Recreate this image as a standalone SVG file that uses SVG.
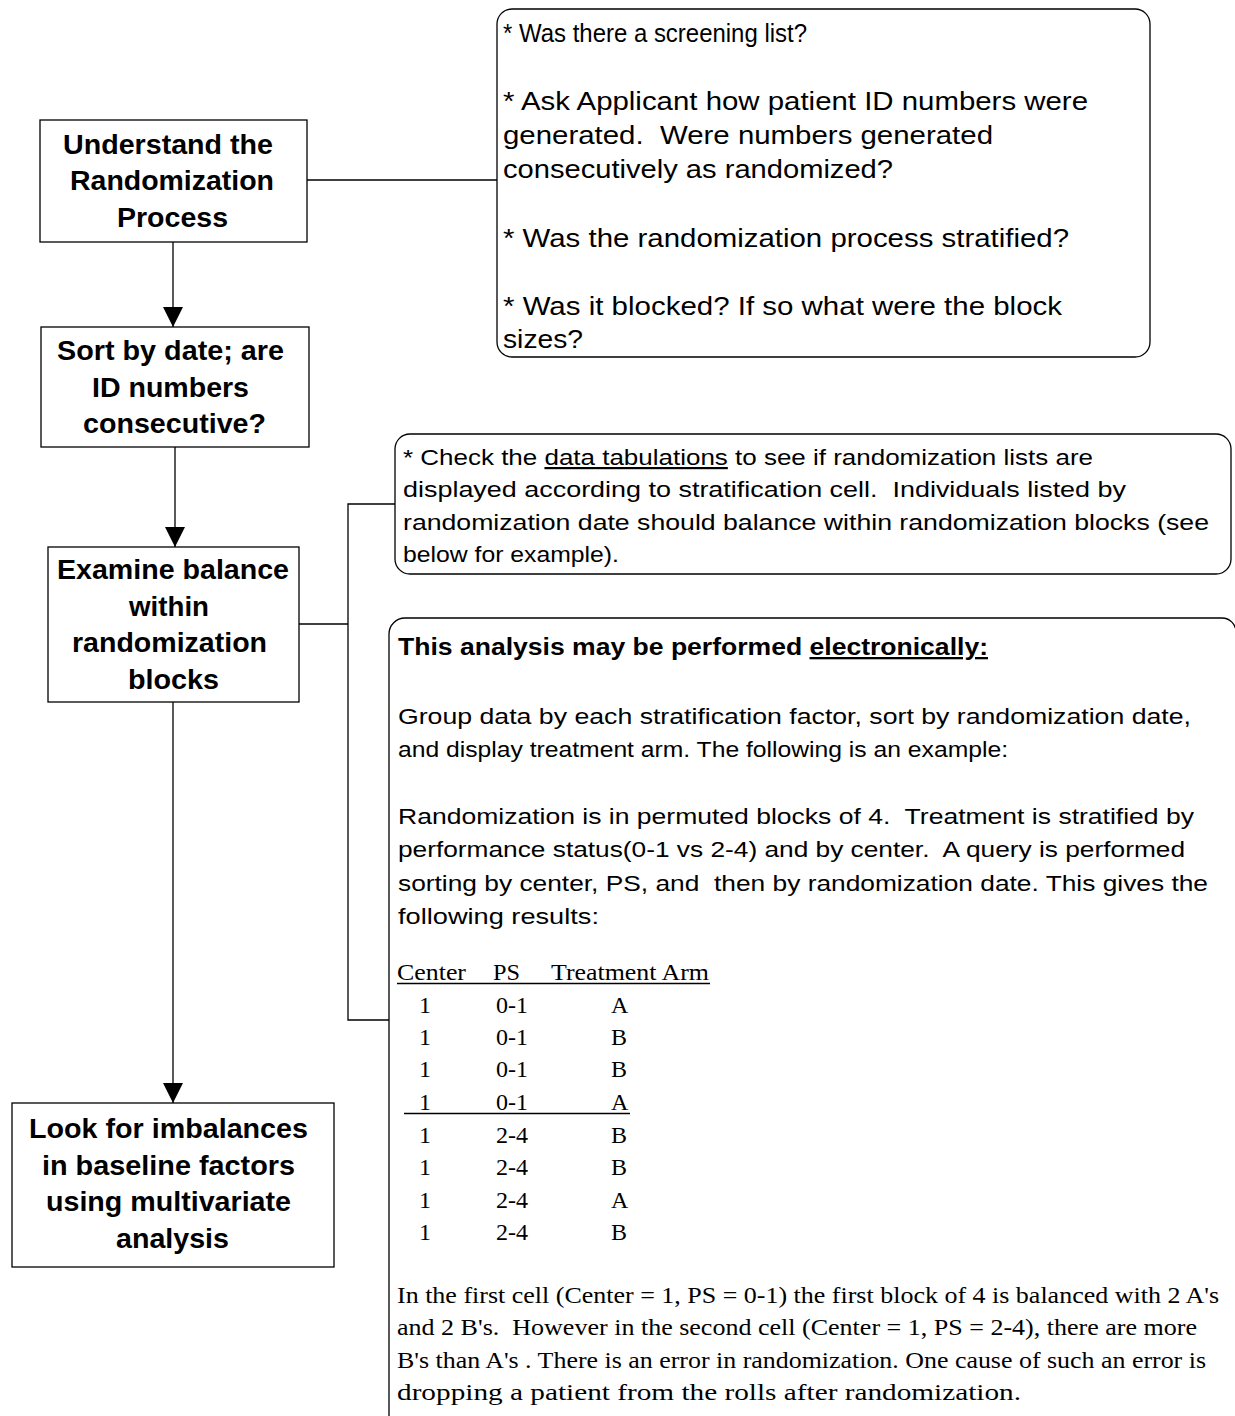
<svg xmlns="http://www.w3.org/2000/svg" width="1235" height="1416" viewBox="0 0 1235 1416">
  <style>
    .box { fill: #ffffff; stroke: #000000; stroke-width: 1.3; }
    .note { fill: #ffffff; stroke: #000000; stroke-width: 1.3; }
    .wire { fill: none; stroke: #000000; stroke-width: 1.3; }
    .rule { stroke: #000000; stroke-width: 1.3; }
    .head { font-family: "Liberation Sans", Arial, sans-serif; font-weight: bold; font-size: 27.5px; fill: #000000; text-anchor: middle; }
    .big { font-family: "Liberation Sans", Arial, sans-serif; font-size: 26px; fill: #000000; }
    .sans { font-family: "Liberation Sans", Arial, sans-serif; font-size: 22px; fill: #000000; }
    .sansb { font-family: "Liberation Sans", Arial, sans-serif; font-size: 23px; font-weight: bold; fill: #000000; }
    .serif { font-family: "Liberation Serif", "Times New Roman", serif; font-size: 24px; fill: #000000; }
    .u { text-decoration: underline; }
  </style>
  <defs>
    <marker id="arrow" markerUnits="userSpaceOnUse" markerWidth="22" markerHeight="22" viewBox="0 0 22 22" refX="20" refY="11" orient="auto">
      <path d="M0,1 L20,11 L0,21 Z" fill="#000000"/>
    </marker>
  </defs>

  <!-- connectors -->
  <g id="connectors">
    <line class="wire" x1="173" y1="242" x2="173" y2="327" marker-end="url(#arrow)"/>
    <line class="wire" x1="175" y1="447" x2="175" y2="547" marker-end="url(#arrow)"/>
    <line class="wire" x1="173" y1="702" x2="173" y2="1103" marker-end="url(#arrow)"/>
    <line class="wire" x1="307" y1="180" x2="497" y2="180"/>
    <path class="wire" d="M299,624 H348 M395,504 H348 V1020 H389"/>
  </g>

  <!-- step 1 -->
  <g id="understand">
    <rect class="box" x="40" y="120" width="267" height="122"/>
    <text class="head" x="168" y="154" textLength="210" lengthAdjust="spacingAndGlyphs">Understand the</text>
    <text class="head" x="172" y="190" textLength="204" lengthAdjust="spacingAndGlyphs">Randomization</text>
    <text class="head" x="172.5" y="227" textLength="111" lengthAdjust="spacingAndGlyphs">Process</text>
  </g>

  <!-- step 2 -->
  <g id="sort">
    <rect class="box" x="41" y="327" width="268" height="120"/>
    <text class="head" x="170.5" y="360" textLength="227" lengthAdjust="spacingAndGlyphs">Sort by date; are</text>
    <text class="head" x="170.5" y="397" textLength="157" lengthAdjust="spacingAndGlyphs">ID numbers</text>
    <text class="head" x="174.5" y="433" textLength="183" lengthAdjust="spacingAndGlyphs">consecutive?</text>
  </g>

  <!-- step 3 -->
  <g id="examine">
    <rect class="box" x="48" y="547" width="251" height="155"/>
    <text class="head" x="173" y="579" textLength="232" lengthAdjust="spacingAndGlyphs">Examine balance</text>
    <text class="head" x="169" y="616" textLength="80" lengthAdjust="spacingAndGlyphs">within</text>
    <text class="head" x="169.5" y="652" textLength="195" lengthAdjust="spacingAndGlyphs">randomization</text>
    <text class="head" x="173.5" y="689" textLength="91" lengthAdjust="spacingAndGlyphs">blocks</text>
  </g>

  <!-- step 4 -->
  <g id="imbalances">
    <rect class="box" x="12" y="1103" width="322" height="164"/>
    <text class="head" x="168.5" y="1138" textLength="279" lengthAdjust="spacingAndGlyphs">Look for imbalances</text>
    <text class="head" x="168.5" y="1175" textLength="253" lengthAdjust="spacingAndGlyphs">in baseline factors</text>
    <text class="head" x="168.5" y="1211" textLength="245" lengthAdjust="spacingAndGlyphs">using multivariate</text>
    <text class="head" x="172.5" y="1248" textLength="113" lengthAdjust="spacingAndGlyphs">analysis</text>
  </g>

  <!-- questions about the randomization process -->
  <g id="questions">
    <rect class="note" x="497" y="9" width="653" height="348" rx="15" ry="15"/>
    <text class="big" x="503" y="42" textLength="304" lengthAdjust="spacingAndGlyphs">* Was there a screening list?</text>
    <text class="big" x="503" y="110" textLength="585" lengthAdjust="spacingAndGlyphs">* Ask Applicant how patient ID numbers were</text>
    <text class="big" x="503" y="144" textLength="490" lengthAdjust="spacingAndGlyphs" xml:space="preserve">generated.  Were numbers generated</text>
    <text class="big" x="503" y="178" textLength="390" lengthAdjust="spacingAndGlyphs">consecutively as randomized?</text>
    <text class="big" x="503" y="247" textLength="566" lengthAdjust="spacingAndGlyphs">* Was the randomization process stratified?</text>
    <text class="big" x="503" y="315" textLength="559" lengthAdjust="spacingAndGlyphs">* Was it blocked? If so what were the block</text>
    <text class="big" x="503" y="348" textLength="80" lengthAdjust="spacingAndGlyphs">sizes?</text>
  </g>

  <!-- data tabulation check -->
  <g id="tabulations">
    <rect class="note" x="395" y="434" width="836" height="140" rx="15" ry="15"/>
    <text class="sans" x="403" y="465" textLength="690" lengthAdjust="spacingAndGlyphs">* Check the <tspan class="u">data tabulations</tspan> to see if randomization lists are</text>
    <text class="sans" x="403" y="497" textLength="723" lengthAdjust="spacingAndGlyphs" xml:space="preserve">displayed according to stratification cell.  Individuals listed by</text>
    <text class="sans" x="403" y="530" textLength="806" lengthAdjust="spacingAndGlyphs">randomization date should balance within randomization blocks (see</text>
    <text class="sans" x="403" y="562" textLength="216" lengthAdjust="spacingAndGlyphs">below for example).</text>
  </g>

  <!-- electronic analysis example -->
  <g id="electronic">
    <path class="note" d="M389,1430 V634 A16,16 0 0 1 405,618 H1222 A14,14 0 0 1 1236,632 V1430"/>
    <text class="sansb" x="398" y="655" textLength="590" lengthAdjust="spacingAndGlyphs">This analysis may be performed <tspan class="u">electronically:</tspan></text>
    <text class="sans" x="398" y="724" textLength="793" lengthAdjust="spacingAndGlyphs">Group data by each stratification factor, sort by randomization date,</text>
    <text class="sans" x="398" y="757" textLength="610" lengthAdjust="spacingAndGlyphs">and display treatment arm. The following is an example:</text>
    <text class="sans" x="398" y="824" textLength="796" lengthAdjust="spacingAndGlyphs" xml:space="preserve">Randomization is in permuted blocks of 4.  Treatment is stratified by</text>
    <text class="sans" x="398" y="857" textLength="787" lengthAdjust="spacingAndGlyphs" xml:space="preserve">performance status(0-1 vs 2-4) and by center.  A query is performed</text>
    <text class="sans" x="398" y="891" textLength="810" lengthAdjust="spacingAndGlyphs" xml:space="preserve">sorting by center, PS, and  then by randomization date. This gives the</text>
    <text class="sans" x="398" y="924" textLength="201" lengthAdjust="spacingAndGlyphs">following results:</text>

    <!-- table header -->
    <text class="serif" x="397" y="980" textLength="69" lengthAdjust="spacingAndGlyphs">Center</text>
    <text class="serif" x="493" y="980" textLength="27" lengthAdjust="spacingAndGlyphs">PS</text>
    <text class="serif" x="551" y="980" textLength="158" lengthAdjust="spacingAndGlyphs">Treatment Arm</text>
    <line class="rule" x1="397" y1="983.5" x2="710" y2="983.5"/>

    <!-- table rows -->
    <g class="serif">
      <text x="419" y="1013">1</text><text x="496" y="1013">0-1</text><text x="611" y="1013">A</text>
      <text x="419" y="1045">1</text><text x="496" y="1045">0-1</text><text x="611" y="1045">B</text>
      <text x="419" y="1077">1</text><text x="496" y="1077">0-1</text><text x="611" y="1077">B</text>
      <text x="419" y="1110">1</text><text x="496" y="1110">0-1</text><text x="611" y="1110">A</text>
      <text x="419" y="1143">1</text><text x="496" y="1143">2-4</text><text x="611" y="1143">B</text>
      <text x="419" y="1175">1</text><text x="496" y="1175">2-4</text><text x="611" y="1175">B</text>
      <text x="419" y="1208">1</text><text x="496" y="1208">2-4</text><text x="611" y="1208">A</text>
      <text x="419" y="1240">1</text><text x="496" y="1240">2-4</text><text x="611" y="1240">B</text>
    </g>
    <line class="rule" x1="404" y1="1113.5" x2="630" y2="1113.5"/>

    <!-- explanation -->
    <text class="serif" x="397" y="1303" textLength="822" lengthAdjust="spacingAndGlyphs">In the first cell (Center = 1, PS = 0-1) the first block of 4 is balanced with 2 A's</text>
    <text class="serif" x="397" y="1335" textLength="800" lengthAdjust="spacingAndGlyphs" xml:space="preserve">and 2 B's.  However in the second cell (Center = 1, PS = 2-4), there are more</text>
    <text class="serif" x="397" y="1368" textLength="809" lengthAdjust="spacingAndGlyphs">B's than A's . There is an error in randomization. One cause of such an error is</text>
    <text class="serif" x="397" y="1400" textLength="624" lengthAdjust="spacingAndGlyphs">dropping a patient from the rolls after randomization.</text>
  </g>
</svg>
